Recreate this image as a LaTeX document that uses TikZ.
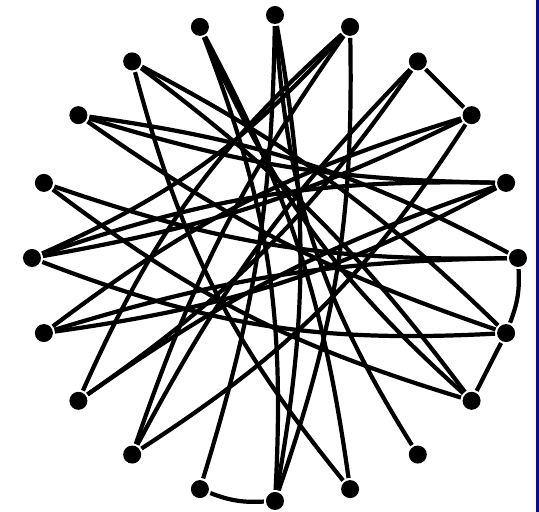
\documentclass[tikz,border=0pt]{standalone}
\definecolor{framebar}{RGB}{10,10,150}
\begin{document}
\begin{tikzpicture}[every node/.style={circle, fill=black, inner sep=0pt, minimum size=0.18cm}, line width=1.2pt]
        \useasboundingbox (-2.75,-2.54) rectangle (2.64,2.58);
        \fill[framebar] (2.615,-2.54) rectangle (2.64,2.58);
        \foreach \i/\angle in {1/90,2/72,3/54,4/36,5/18,6/0,7/-18,8/-36,9/-54,10/-72,11/-90,12/-108,13/-126,14/-144,15/-162,16/180,17/162,18/144,19/126,20/108} {
            \node (v\i) at (\angle:2.43) {};
        }
        \draw (v3)--(v4);
        \draw (v6) to[bend left=12] (v7);
        \draw (v7)--(v8);
        \draw (v11) to[bend left=12] (v12);
        \draw (v1) to[bend right=14] (v9);
        \draw (v1) to[bend left=8] (v12);
        \draw (v1) to[bend left=10] (v11);
        \draw (v2) to[bend left=10] (v11);
        \draw (v2) to[bend right=8] (v13);
        \draw (v2) to[bend right=12] (v14);
        \draw (v3) to[bend right=8] (v13);
        \draw (v3) to[bend left=10] (v14);
        \draw (v4) to[bend left=12] (v13);
        \draw (v4) to[bend right=10] (v15);
        \draw (v4) to[bend left=8] (v16);
        \draw (v5) to[bend right=8] (v14);
        \draw (v5) to[bend left=10] (v15);
        \draw (v5) to[bend right=10] (v16);
        \draw (v5) to[bend left=8] (v18);
        \draw (v6) to[bend right=8] (v15);
        \draw (v6) to[bend left=10] (v17);
        \draw (v6) to[bend right=10] (v18);
        \draw (v7) to[bend left=12] (v16);
        \draw (v7) to[bend left=8] (v18);
        \draw (v7) to[bend right=8] (v19);
        \draw (v8) to[bend left=10] (v17);
        \draw (v8) to[bend right=8] (v19);
        \draw (v8) to[bend left=12] (v20);
        \draw (v10) to[bend left=12] (v19);
        \draw (v10) to[bend right=10] (v20);
        \draw (v11) to[bend right=12] (v20);
        \draw (v2) to[bend left=12] (v16);
\end{tikzpicture}
\end{document}
